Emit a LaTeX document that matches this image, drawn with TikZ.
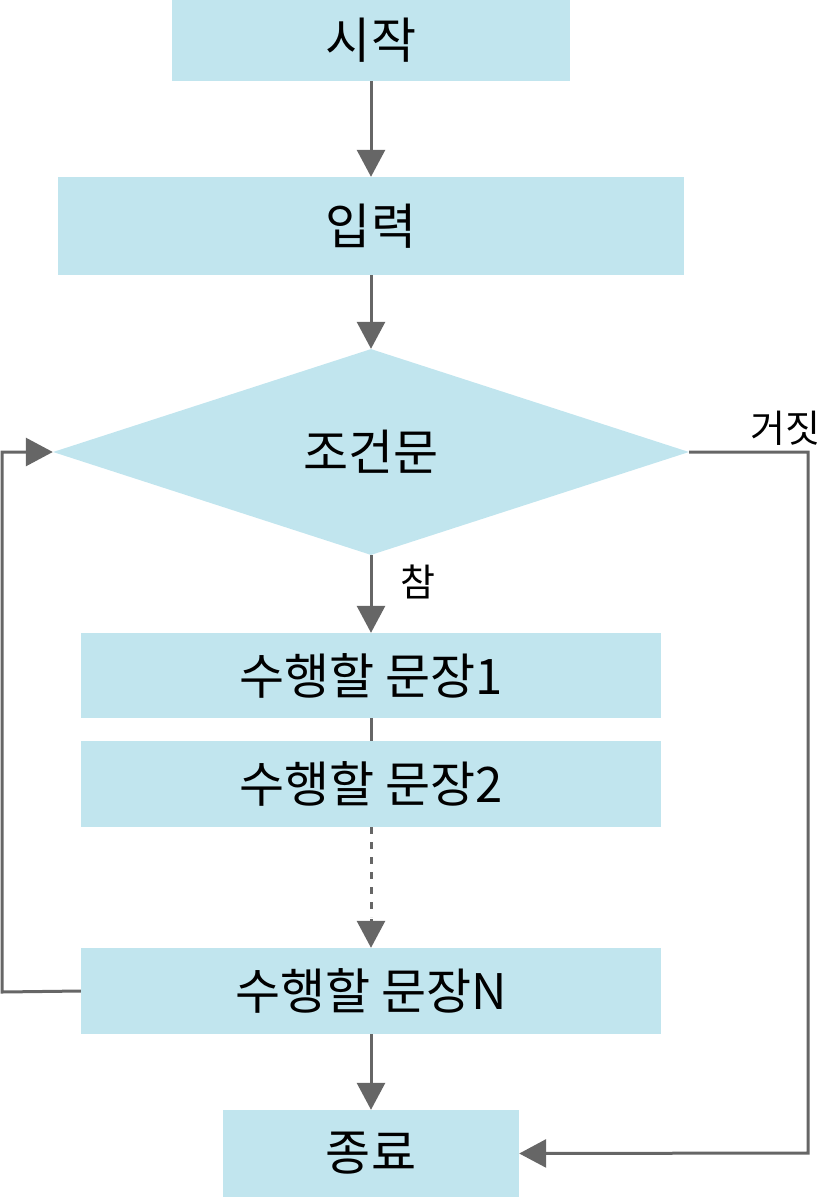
\documentclass[tikz,border=0pt]{standalone}
\usepackage{fontspec}
\setmainfont{Noto Sans CJK KR}
\usetikzlibrary{shapes.geometric,arrows.meta}
\definecolor{boxblue}{HTML}{C1E5EE}
\definecolor{linegray}{HTML}{666666}
\tikzset{
  box/.style={fill=boxblue,draw=none,inner sep=0pt,font=\fontsize{49}{56}\selectfont},
  conn/.style={draw=linegray,line width=3pt},
  arr/.style={conn,-{Triangle[length=27pt,width=28pt]}},
  lbl/.style={font=\fontsize{38}{44}\selectfont,inner sep=0pt}
}
\begin{document}
\begin{tikzpicture}[x=1pt,y=-1pt]
\useasboundingbox (0,0) rectangle (824,1197);
\node[box,minimum width=398pt,minimum height=81pt] (start) at (371,40.5) {시작};
\node[box,minimum width=626pt,minimum height=98pt] (input) at (371,226) {입력};
\node[box,diamond,aspect=3.09,minimum width=636pt,minimum height=206pt] (cond) at (371,452) {조건문};
\node[box,minimum width=580pt,minimum height=85pt] (s1) at (371,675.5) {수행할 문장1};
\node[box,minimum width=580pt,minimum height=86pt] (s2) at (371,784) {수행할 문장2};
\node[box,minimum width=580pt,minimum height=86pt] (sn) at (371,991) {수행할 문장N};
\node[box,minimum width=296pt,minimum height=87pt] (end) at (371,1153.5) {종료};
\coordinate (lp1) at (2,992);
\coordinate (lp2) at (2,452);
\coordinate (rp1) at (808,452);
\coordinate (rp2) at (808,1153);
\draw[arr] (start.south) -- (input.north);
\draw[arr] (input.south) -- (cond.north);
\draw[arr] (cond.south) -- (s1.north);
\draw[conn] (s1.south) -- (s2.north);
\draw[conn,dash pattern=on 7pt off 8pt] (s2.south) -- ++(0,90);
\draw[arr,shorten <=92pt] (s2.south) -- (sn.north);
\draw[arr] (sn.south) -- (end.north);
\draw[arr] (sn.west) -- (lp1) -- (lp2) -- (cond.west);
\draw[arr] (cond.east) -- (rp1) -- (rp2) -- (end.east);
\node[lbl] (t) at (418,582) {참};
\node[lbl] (f) at (785,428) {거짓};
\end{tikzpicture}
\end{document}
